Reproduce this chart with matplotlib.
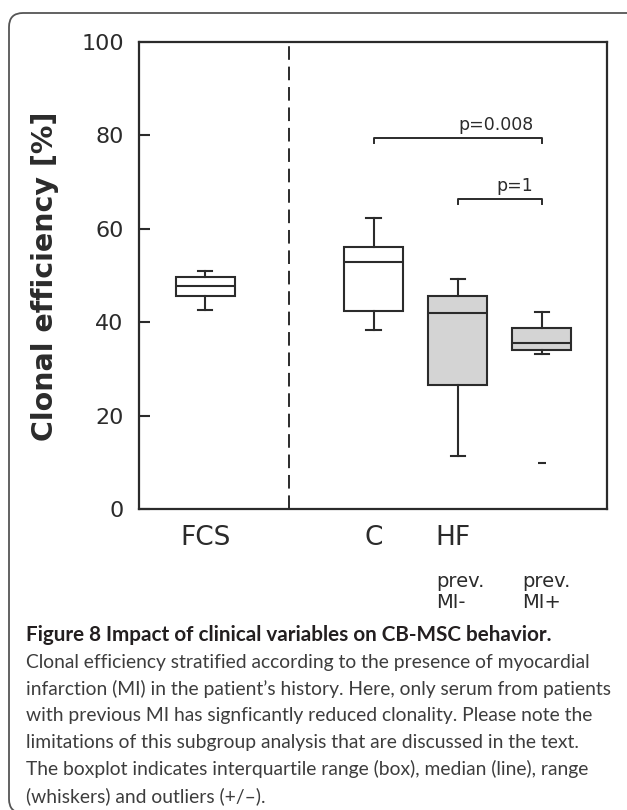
import matplotlib
matplotlib.use("Agg")
import matplotlib.pyplot as plt
from matplotlib.patches import FancyBboxPatch
from matplotlib.transforms import IdentityTransform, blended_transform_factory

# box statistics (clonal efficiency, %)
groups = ["FCS", "C", "HF prev. MI-", "HF prev. MI+"]
positions = [1, 3, 4, 5]
whislo = [42.6, 38.3, 11.3, 33.2]
q1 = [45.6, 42.4, 26.6, 34.0]
med = [47.8, 52.9, 42.0, 35.5]
q3 = [49.7, 56.1, 45.6, 38.8]
whishi = [51.0, 62.3, 49.3, 42.2]
fliers = [[], [], [], [9.8]]
fills = ["white", "white", "#d4d4d4", "#d4d4d4"]

# significance brackets: (x from, x to, height, label)
brackets = [(3, 5, 79.4, "p=0.008"), (4, 5, 66.4, "p=1")]

caption_title = "Figure 8 Impact of clinical variables on CB-MSC behavior."
caption_lines = [
    "Clonal efficiency stratified according to the presence of myocardial",
    "infarction (MI) in the patient\u2019s history. Here, only serum from patients",
    "with previous MI has signficantly reduced clonality. Please note the",
    "limitations of this subgroup analysis that are discussed in the text.",
    "The boxplot indicates interquartile range (box), median (line), range",
    "(whiskers) and outliers (+/\u2013).",
]

W, H = 627, 810
ink = "#2b2b2b"

fig = plt.figure(figsize=(W / 100, H / 100), dpi=100)
ax = fig.add_axes([139 / W, 1 - 509 / H, 468 / W, 467 / H])

stats = []
for i in range(len(groups)):
    stats.append(dict(label=groups[i], whislo=whislo[i], q1=q1[i], med=med[i],
                      q3=q3[i], whishi=whishi[i], fliers=fliers[i]))

lw = 1.5
bp = ax.bxp(stats, positions=positions, widths=0.7, capwidths=0.17,
            patch_artist=True, showfliers=True,
            boxprops=dict(edgecolor=ink, linewidth=lw),
            medianprops=dict(color=ink, linewidth=lw),
            whiskerprops=dict(color=ink, linewidth=lw),
            capprops=dict(color=ink, linewidth=lw),
            flierprops=dict(marker="_", markersize=6, markeredgecolor=ink,
                            markeredgewidth=1.5))
for patch, c in zip(bp["boxes"], fills):
    patch.set_facecolor(c)

ax.axvline(2, color=ink, linewidth=1.4, linestyle=(0, (7, 3.5)))

for x0, x1, y, lab in brackets:
    ax.plot([x0, x0, x1, x1], [y - 1.1, y, y, y - 1.1], color=ink, linewidth=1.4)
    ax.text(4.9, y + 1.8, lab, ha="right", va="baseline", fontsize=12.5, color=ink)

ax.set_xlim(0.214, 5.774)
ax.set_ylim(0, 100)
ax.set_yticks([0, 20, 40, 60, 80, 100])
ax.tick_params(axis="y", direction="in", length=8, width=1.5, pad=11,
               labelsize=16, colors=ink, labelcolor=ink)
ax.set_xticks([])
for s in ax.spines.values():
    s.set_linewidth(1.6)
    s.set_color(ink)

tr = blended_transform_factory(ax.transData, ax.transAxes)
ax.text(1, -0.077, "FCS", ha="center", va="baseline", fontsize=19, color=ink, transform=tr)
ax.text(3, -0.077, "C", ha="center", va="baseline", fontsize=19, color=ink, transform=tr)
ax.text(3.74, -0.077, "HF", ha="left", va="baseline", fontsize=19, color=ink, transform=tr)
for xp, sub in [(3.74, "MI-"), (4.77, "MI+")]:
    ax.text(xp, -0.167, "prev.", ha="left", va="baseline", fontsize=14, color=ink, transform=tr)
    ax.text(xp, -0.212, sub, ha="left", va="baseline", fontsize=14, color=ink, transform=tr)

fig.text(45 / W, 1 - 276 / H, "Clonal efficiency [%]", rotation=90, ha="center",
         va="center", fontsize=20.5, fontweight="bold", color=ink)

# caption
fig.text(26 / W, 1 - 641 / H, caption_title, ha="left", va="baseline",
         fontsize=14.9, fontweight="bold", family="Lato", color="#231f20")
for k, line in enumerate(caption_lines):
    fig.text(26 / W, 1 - (641 + 26.8 * (k + 1)) / H, line, ha="left", va="baseline",
             fontsize=13.9, family="Lato", color="#3d3d3d")

# rounded frame around the whole panel
frame = FancyBboxPatch((9, -3), 640, 810 - 13 + 3,
                       boxstyle="round,pad=0,rounding_size=14",
                       transform=IdentityTransform(), facecolor="none",
                       edgecolor="#555555", linewidth=1.3)
fig.patches.append(frame)

fig.savefig("out.png", dpi=100)
